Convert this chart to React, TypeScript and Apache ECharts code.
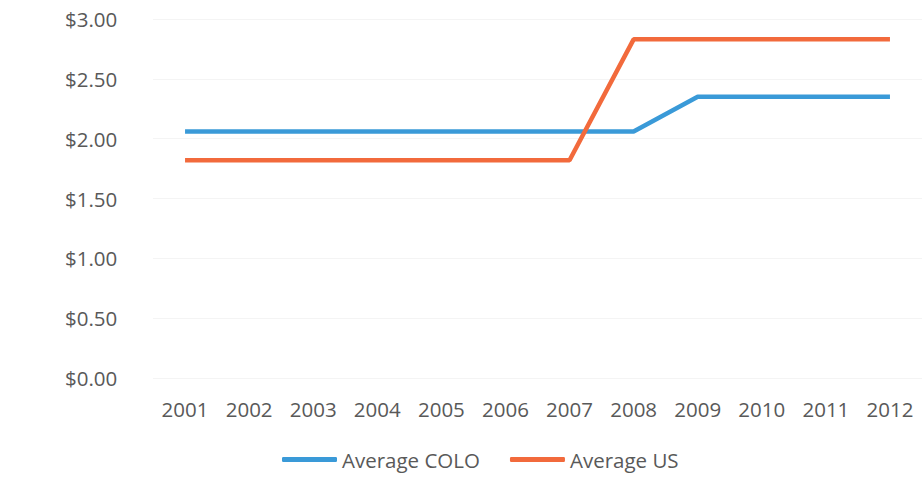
import React, { useEffect, useRef } from "react";
import * as echarts from "echarts";

const years = ["2001", "2002", "2003", "2004", "2005", "2006", "2007", "2008", "2009", "2010", "2011", "2012"];
const averageColo = [2.06, 2.06, 2.06, 2.06, 2.06, 2.06, 2.06, 2.06, 2.35, 2.35, 2.35, 2.35];
const averageUS = [1.82, 1.82, 1.82, 1.82, 1.82, 1.82, 1.82, 2.83, 2.83, 2.83, 2.83, 2.83];

const FONT = "'Open Sans', 'Noto Sans', sans-serif";
const TEXT = "#595959";

export default function App() {
  const ref = useRef<HTMLDivElement>(null);
  useEffect(() => {
    document.body.style.margin = "0";
    const chart = echarts.init(ref.current!, null, { renderer: "svg" });
    chart.setOption({
      animation: false,
      backgroundColor: "#ffffff",
      grid: { left: 153, top: 19, width: 772, height: 359, containLabel: false },
      xAxis: {
        type: "category",
        data: years,
        boundaryGap: true,
        axisLine: { show: false },
        axisTick: { show: false },
        axisLabel: { color: TEXT, fontFamily: FONT, fontSize: 20.5, margin: 20 },
      },
      yAxis: {
        type: "value",
        min: 0,
        max: 3,
        interval: 0.5,
        axisLine: { show: false },
        axisTick: { show: false },
        splitLine: { lineStyle: { color: "#f4f4f4", width: 1 } },
        axisLabel: {
          color: TEXT,
          fontFamily: FONT,
          fontSize: 20.5,
          margin: 88,
          align: "left",
          formatter: (v: number) => "$" + v.toFixed(2),
        },
      },
      legend: {
        bottom: 4,
        left: 277,
        icon: "roundRect",
        itemWidth: 55,
        itemHeight: 5,
        itemGap: 30,
        textStyle: { color: TEXT, fontFamily: FONT, fontSize: 20.5 },
      },
      series: [
        {
          name: "Average COLO",
          type: "line",
          data: averageColo,
          symbol: "none",
          lineStyle: { color: "#3a9ad8", width: 4.5 },
          itemStyle: { color: "#3a9ad8" },
        },
        {
          name: "Average US",
          type: "line",
          data: averageUS,
          symbol: "none",
          lineStyle: { color: "#f26a3c", width: 4.5 },
          itemStyle: { color: "#f26a3c" },
        },
      ],
    });
    return () => chart.dispose();
  }, []);
  return <div ref={ref} style={{ width: 922, height: 479 }} />;
}
